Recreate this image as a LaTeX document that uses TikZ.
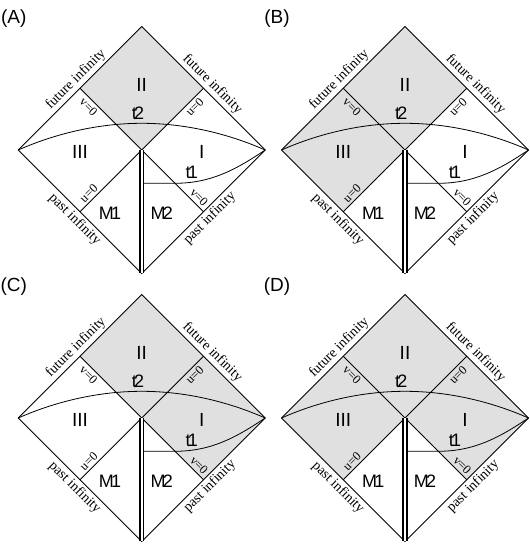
\documentclass[tikz,border=0pt]{standalone}
\usepackage{fontspec}
\setmainfont{Liberation Serif}
\newfontfamily\arialfont{Liberation Sans}
\usetikzlibrary{positioning}
\definecolor{zonegray}{gray}{0.88}

\begin{document}
\begin{tikzpicture}[x=1pt,y=1pt,
    rim/.style={line width=0.8pt},
    grayzone/.style={fill=zonegray},
    wall/.style={double, line width=1.7pt, double distance=2pt},
    region/.style={font=\arialfont\fontsize{19}{19}\selectfont},
    tag/.style={font=\arialfont\fontsize{18}{18}\selectfont},
    panel/.style={font=\arialfont\fontsize{19}{19}\selectfont},
    infty/.style={font=\fontsize{14}{14}\selectfont, sloped, inner sep=2.5pt},
    nullline/.style={font=\fontsize{12.5}{12.5}\selectfont, sloped, inner sep=2.5pt}]
    \useasboundingbox (0,0) rectangle (530,544);

    % One diamond per panel, the shaded zones change
    \foreach \cx/\cy/\lab/\zones in {141.7/394/A/{T/UL/UR},
                                     405/394/B/{T/UL/UR,L/UL/LL},
                                     141.7/126/C/{T/UL/UR,R/UR/LR},
                                     405/126/D/{T/UL/UR,L/UL/LL,R/UR/LR}} {
    \begin{scope}[shift={(\cx,\cy)}]
        % Corners and midpoints
        \coordinate (O) at (0,0);
        \coordinate (T) at (0,123.5);
        \coordinate (L) at (-123.5,0);
        \coordinate (R) at (123.5,0);
        \coordinate (B) at (0,-123.5);
        \coordinate (UL) at (-61.75,61.75);
        \coordinate (UR) at (61.75,61.75);
        \coordinate (LL) at (-61.75,-61.75);
        \coordinate (LR) at (61.75,-61.75);
        \coordinate (P) at (0,26.7);
        \coordinate (S) at (0,-33.3);
        \coordinate (S1) at (33,-33.3);

        % Shaded zones
        \foreach \p/\q/\s in \zones {
            \fill[grayzone] (O) -- (\q) -- (\p) -- (\s) -- cycle;
        }

        % Outline and null lines
        \draw[rim] (T) -- (R) -- (B) -- (L) -- cycle;
        \draw[rim] (UL) -- (LR);
        \draw[rim] (UR) -- (LL);

        % Time slices
        \draw[rim] (L) parabola bend (P) (R);
        \draw[rim] (S) -- (S1) .. controls (70,-33.3) and (95,-19) .. (R);

        % Wall
        \draw[wall] (O) -- (B);

        % Region labels
        \node[panel] (lab) at (-128,131.5) {(\lab)};
        \node[region] (II) at (0,65) {II};
        \node[region] (III) at (-61.7,-2) {III};
        \node[region] (I) at (60,-2) {I};
        \node[tag] (t2) at (-3.7,37) {t\kern-.15em2};
        \node[tag] (t1) at (50,-22) {t\kern-.15em1};
        \node[tag] (M1) at (-31.7,-63) {M\kern-.15em1};
        \node[tag] (M2) at (20,-63) {M\kern-.15em2};

        % Infinities
        \path (L) -- node[infty, pos=0.52, above] (futL) {future infinity} (T);
        \path (T) -- node[infty, pos=0.52, above] (futR) {future infinity} (R);
        \path (L) -- node[infty, pos=0.51, below] (pastL) {past infinity} (B);
        \path (B) -- node[infty, pos=0.5, below] (pastR) {past infinity} (R);

        % Null coordinates
        \path (UL) -- node[nullline, pos=0.22, below] (vUL) {v=0} (O);
        \path (O) -- node[nullline, pos=0.78, below] (uUR) {u=0} (UR);
        \path (LL) -- node[nullline, pos=0.22, above] (uLL) {u=0} (O);
        \path (O) -- node[nullline, pos=0.85, above] (vLR) {v=0} (LR);
    \end{scope}
    }
\end{tikzpicture}
\end{document}
